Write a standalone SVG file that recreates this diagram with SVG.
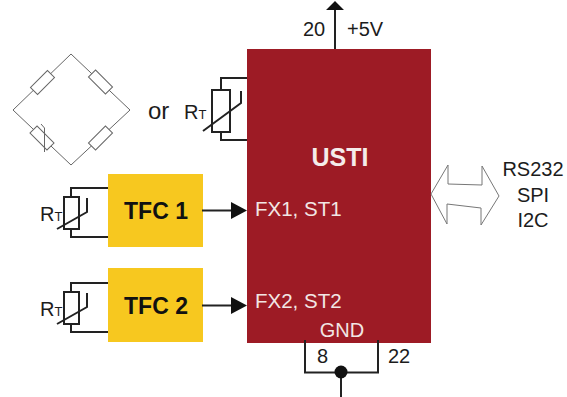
<svg xmlns="http://www.w3.org/2000/svg" width="567" height="397" viewBox="0 0 567 397">
<style>
text{font-family:"Liberation Sans",Arial,sans-serif;font-size:20px;fill:#1c1c1c}
.w{fill:#f2e6e4;font-size:20.500px}
.c{text-anchor:middle}
.t{font-size:23px;font-weight:700;fill:#111;text-anchor:middle}
.s{font-size:13px}
.box{fill:#f7c81f}
.l{fill:none;stroke:#222;stroke-width:2}
.g{fill:#fff;stroke:#666;stroke-width:1}
.gl{fill:none;stroke:#666;stroke-width:1}
</style>
<defs>
<g id="therm">
<path class="l" d="M108 188H71V197M71 229V237H108"/>
<rect class="l" x="64" y="197" width="15" height="32"/>
<path class="l" d="M87 198V212L57 229"/>
</g>
</defs>
<g id="usti"><rect x="247" y="49" width="184" height="294" fill="#9d1b25"/>
<text x="340" y="166" class="c" style="font-size:25px;font-weight:700;fill:#f5ecea">USTI</text>
<text x="255" y="216" class="w">FX1, ST1</text>
<text x="255" y="308" class="w">FX2, ST2</text>
<text x="342" y="337" class="c" style="fill:#f2e6e4">GND</text></g>
<g id="bridge">
<path class="gl" d="M71 54L13 110L71 165L130 110Z"/>
<rect class="g" x="-12" y="-5" width="24" height="10" transform="translate(42.500 82.500) rotate(-45)"/>
<rect class="g" x="-12" y="-5" width="24" height="10" transform="translate(100.500 82) rotate(45)"/>
<rect class="g" x="-12" y="-5" width="24" height="10" transform="translate(42 138) rotate(45)"/>
<rect class="g" x="-12" y="-5" width="24" height="10" transform="translate(100.500 138) rotate(-45)"/>
<path class="gl" d="M41 124L44.500 128V152"/>
</g>
<text id="or" x="148" y="119" style="font-size:24px">or</text>
<g id="rt0"><text x="184" y="119">R<tspan class="s">T</tspan></text>
<path class="l" d="M247 78H221V90M221 132V140H247"/>
<rect class="l" x="212" y="90" width="18" height="42"/>
<path class="l" d="M241 91V103L203 131"/></g>
<g id="tfc1"><rect class="box" x="108" y="174" width="95" height="73"/>
<text x="156" y="219" class="t">TFC 1</text></g>
<g id="tfc2"><rect class="box" x="108" y="268" width="95" height="74"/>
<text x="156" y="314" class="t">TFC 2</text></g>
<g id="rt1"><text x="40" y="221">R<tspan class="s">T</tspan></text>
<use href="#therm"/></g>
<g id="rt2"><text x="40" y="316">R<tspan class="s">T</tspan></text>
<use href="#therm" transform="translate(0 95)"/></g>
<g id="connectors">
<path class="l" d="M202 210.500H232M202 305.500H232M335 49V8M305 340V372.500H378V340M341 372V397"/>
<path fill="#111" d="M231 202L247 210.500L231 219ZM231 297L247 305.500L231 314ZM326 10L335 1L344 10Z"/>
<circle cx="341" cy="372" r="6.500" fill="#111"/>
<path fill="#fff" stroke="#777" d="M431 194L448 165V184L482 185V166L499 196L481 225V208L447 204V224Z"/>
</g>
<text x="303" y="36">20</text><text x="347" y="36">+5V</text>
<text x="317" y="363">8</text><text x="388" y="363">22</text>
<g id="iface"><text x="533" y="176" class="c">RS232</text><text x="533" y="202" class="c">SPI</text><text x="533" y="227" class="c">I2C</text></g>
</svg>
